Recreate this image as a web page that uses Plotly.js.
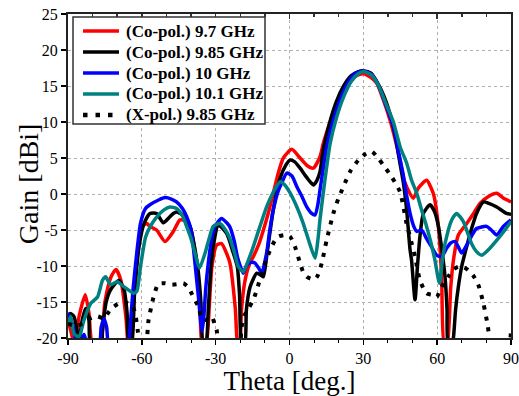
<!DOCTYPE html>
<html>
<head>
<meta charset="utf-8">
<script src="https://cdn.plot.ly/plotly-3.0.1.min.js"></script>
<style>
html,body{margin:0;padding:0;background:#fff;}
#chart{width:519px;height:396px;}
</style>
</head>
<body>
<div id="chart"></div>
<script>
// ---- Data ----
const seriesNames = ["(Co-pol.) 9.7 GHz", "(Co-pol.) 9.85 GHz", "(Co-pol.) 10 GHz", "(Co-pol.) 10.1 GHz", "(X-pol.) 9.85 GHz"];

const theta97 = [-90,-88.5,-87.5,-85.5,-83,-81.5,-80,-77,-75,-72.5,-70.5,-68.5,-66.5,-65.5,-64,-62,-60,-58,-56.7,-54,-50.6,-47.2,-44.5,-42,-40,-38,-36.5,-35.5,-34.5,-33.5,-31.5,-29.6,-27.6,-25.5,-24.2,-22,-21,-20.3,-19.5,-18,-16,-14.7,-12.5,-10.6,-8.5,-6.6,-4.5,-2.5,0.9,4.3,7,9.7,12.4,13.7,16.5,19.2,22,24.6,27,30,33,35.4,38,40.8,43,44.9,46.5,47.6,50.3,52.3,55.7,58.4,60.5,61.8,62.9,64,65.5,66.6,68.6,72,75,77.4,81,84.2,87,90];
const gain97  = [-17.5,-19.5,-21,-17,-14,-16.5,-21,-21,-15,-11.5,-10.5,-12,-17,-21,-18,-9,-4.5,-4.1,-4.5,-5,-6.6,-5.2,-3.6,-3.8,-5,-9,-14,-21,-21,-20,-10,-7.1,-6.9,-8.3,-9.6,-16,-21,-21,-16,-11.9,-9.5,-8.7,-7,-5,-2.5,0.1,3,5,6.2,5,4,3.6,5.2,7,10,12.6,14.5,15.8,16.4,16.7,16.2,15.4,13.2,10.3,7.5,4.7,2,1,-0.6,0.8,1.9,0.1,-4.5,-11.5,-21,-21,-13,-9.2,-5.7,-4.1,-2.6,-1.3,-0.3,0.1,-0.6,-1.1];

const theta985 = [-90,-89,-87.6,-86.3,-85.5,-84.5,-82.8,-81.5,-80.8,-76.5,-76,-74.5,-72.7,-69.3,-67.2,-66,-65.2,-64.2,-63,-61,-59,-56.7,-54,-51.3,-49,-47.2,-45.9,-43,-40.4,-38.5,-37,-36,-35,-34,-33,-32,-31,-28.9,-25.5,-23,-21.2,-20.3,-19.4,-18.2,-17.5,-16,-13.3,-11.5,-10.6,-9.3,-6.6,-3.8,-1.5,0.2,2,4.3,7,9.7,11,12.4,13.7,16,19,22,25,28,30,33,36,38.5,40.8,43,44.5,46.3,47.6,49,49.6,51,52,53,54.4,57.1,59,60.5,62,63.2,64,64.5,66,66.6,67.5,68.6,70,72,74,76,78.8,81,84.2,88.2,90];
const gain985  = [-16.8,-16.6,-17,-19,-21,-18,-15.9,-17.5,-21,-21,-19,-15,-13.3,-12,-13.3,-16.5,-21,-21,-14,-7,-4,-2.7,-2.7,-4,-3.3,-2.7,-2.5,-3,-4.5,-7.5,-11,-15,-21,-21,-16,-10.5,-7.3,-4.3,-5.5,-8,-10.1,-14,-21,-21,-16,-12.9,-11,-11.3,-11.5,-8.7,-2.2,2.2,4,4.7,4.5,3.6,2.3,1.25,1.8,3.1,6.1,9.5,12.8,15,16.4,17,17.1,16.8,15.3,13.5,11.2,8,5,1.5,-2.2,-7.8,-9.2,-14.7,-10,-5.9,-2.7,-1.5,-2.5,-4.5,-8,-11.5,-16,-21,-21,-20,-16,-12.9,-10,-7.3,-4.8,-2.7,-1.1,-1.3,-1.8,-2.7,-2.8];

const theta10 = [-90,-88.2,-86.2,-85,-83.5,-82,-77.4,-76.5,-75.4,-74.3,-73.3,-66,-65.2,-63.5,-62,-60.5,-58.5,-56.7,-53,-50.6,-48,-45.9,-43.5,-41.8,-40,-39.1,-38,-37,-36,-35.5,-34.8,-34,-33,-31.5,-30.3,-27.6,-25.5,-24.2,-22.5,-21.2,-20,-18.8,-17.4,-15.5,-14,-12.5,-11.3,-9.3,-8,-6.6,-4.5,-3.2,-1.1,1,3,5,7,9,10.4,11.5,12.4,13.7,15.1,18,21,24,27,30,33,36,39,42.2,44.5,46.3,47.5,49,50.5,51.7,53.7,55.7,57.5,59.8,61.8,63.9,65.5,67.3,68.8,70,72,74,76,80.1,82,84.2,86.9,90];
const gain10  = [-16.6,-18,-21,-21,-19.5,-21,-21,-18.5,-17.3,-18.5,-21,-21,-20,-13,-8,-4,-2,-1.5,-0.8,-0.5,-0.7,-1.1,-2,-3.1,-5,-7.3,-11,-14.3,-18,-19.1,-17,-13,-9.6,-6,-4.5,-3.4,-4,-4.6,-6.5,-8.7,-10,-11,-9.9,-9.5,-9.6,-10.3,-11,-8.2,-5,-2.2,0.5,1.5,2.9,2.5,1,-0.3,-1.8,-2.7,-2.9,-1.5,0.6,3.5,6.6,10.5,13.5,15.6,16.8,17.1,16.7,15.2,12.5,9.4,5.5,2.5,0,-2.7,-4.5,-5.2,-5,-6.2,-7.2,-8.5,-8.7,-7.5,-6.8,-6.6,-7.5,-8.2,-7.1,-5.8,-4.8,-4.5,-5,-5.7,-4.5,-3.6];

const theta101 = [-90,-88.9,-87.6,-85.5,-83.5,-80.8,-78,-76,-74.7,-72.7,-70,-67.2,-63.2,-62,-60.5,-58.5,-56.7,-54,-51,-48.6,-45.9,-43.5,-41.8,-40,-38.4,-36.6,-34.3,-32.5,-31,-28.2,-26,-24.2,-22.5,-20.8,-18.8,-16.5,-14.7,-12,-9.3,-6.5,-3.8,-2,0,3,5.5,8.3,10.4,11.5,12.4,13.7,15,16.5,19,22,25,28,30,33,36,39,42.2,45,47.6,49.5,51.7,53.5,55.7,57.5,59.1,60.9,62,63.2,65.9,67.9,70.6,72.5,74,76,78.1,81.5,85.5,88,90];
const gain101  = [-18,-17,-19.4,-19.8,-17.5,-15.2,-14.3,-12,-11.5,-12.6,-12.2,-12.9,-13.8,-13.5,-10,-6,-4.6,-3.2,-2.2,-1.8,-2,-3,-4.5,-6.2,-8.2,-10.3,-8.2,-6,-4.5,-4.1,-5,-6.2,-8,-10.1,-10.8,-9,-7.3,-4.5,-1.8,0.3,1.7,1.3,0.3,-1.8,-4,-7,-8.9,-6.5,-3.5,0.1,3.5,7,10.5,13.5,15.6,16.7,17,16.6,15.2,12.7,10,6.5,4.3,2,0.1,-2,-4.5,-6.8,-9.2,-12.4,-9.5,-6.9,-3.6,-2.7,-3.8,-5.5,-6.9,-8,-8.5,-7.5,-5.9,-4.8,-3.8];

const thetaX = [-90,-87,-84,-81,-78,-75.4,-72.7,-69.3,-66.5,-63.9,-62.5,-61.6,-60.5,-58.5,-57.3,-55.3,-53.3,-50.5,-47.9,-45,-43.1,-41,-39.8,-38,-37,-35.7,-34,-31.6,-30.5,-29.6,-28.5,-20.5,-19.5,-18.5,-16.5,-14.7,-13,-11.3,-9.5,-7.9,-6,-4.5,-2,0.2,2.2,4.3,5.5,7,9,10.4,11.5,13.1,15.1,17.8,20,21.9,24.6,28,31,33.4,36,38.1,41.5,44.9,46.3,47.5,49,51,53,55.7,58,59.8,61.8,64.5,66.5,68.6,71,73.3,75,76.7,78.8,80.4,81.2,82,89,90];
const gainX  = [-18,-18.3,-18,-17.3,-17,-17.3,-16,-15.2,-15.1,-15.4,-17,-19.1,-21,-21,-17.6,-14.4,-12.5,-12.4,-12.6,-12.5,-12.4,-13,-13.8,-15,-15.6,-17.3,-17.5,-17,-18,-18.9,-21,-21,-18.5,-17,-15.8,-14.7,-13,-11,-9.2,-7.8,-6.5,-5.9,-5.7,-5.9,-7.3,-9.6,-10.8,-11.5,-11.8,-11.8,-11.3,-9.6,-6.4,-2.7,-0.5,1,3.1,4.7,5.6,5.9,5,4,2.4,0.3,-1.8,-4,-6,-8.7,-12,-13.8,-14,-14.3,-12.9,-11.5,-10.5,-10.1,-10.2,-10.8,-11.5,-12.6,-15.2,-18,-19.8,-21,-21,-19];

const xTickVals = [-90,-60,-30,0,30,60,90];
const xTickText = ["-90","-60","-30","0","30","60","90"];
const yTickVals = [-20,-15,-10,-5,0,5,10,15,20,25];
const yTickText = ["-20","-15","-10","-5","0","5","10","15","20","25"];

const colors = ["#ff0000","#000000","#0000ff","#008080","#000000"];

// ---- Traces ----
const xs = [theta97, theta985, theta10, theta101, thetaX];
const ys = [gain97, gain985, gain10, gain101, gainX];
const traces = xs.map((x,i)=>({
  x: x, y: ys[i], name: seriesNames[i], type: 'scatter', mode: 'lines', showlegend: false,
  line: {color: colors[i], width: i===4 ? 4 : 3.5, shape: 'spline', smoothing: 0.6, dash: i===4 ? '4px,7px' : 'solid'}
}));
traces.push({x: [], y: [], xaxis: 'x2', showlegend: false, hoverinfo: 'skip'});

const fontFam = '"Liberation Serif", "Times New Roman", serif';

// ---- Legend box (drawn with paper-referenced shapes + annotations) ----
const legX0 = 0.0113, legX1 = 0.4447, legY0 = 0.6605, legY1 = 0.9907;
const legLineX0 = 0.0339, legLineX1 = 0.1151, legTextX = 0.1264;
const legRowY = [0.9475, 0.8827, 0.8179, 0.7531, 0.6883];
const shapes = [{type:'rect', xref:'paper', yref:'paper', x0:legX0, x1:legX1, y0:legY0, y1:legY1,
                 fillcolor:'#ffffff', line:{color:'#333333', width:1.5}, layer:'above'}];
const annotations = [];
seriesNames.forEach((n,i)=>{
  shapes.push({type:'line', xref:'paper', yref:'paper', x0:legLineX0, x1: i===4 ? legLineX0+0.0700 : legLineX1,
               y0:legRowY[i], y1:legRowY[i], layer:'above',
               line:{color:colors[i], width: i===4 ? 4.5 : 3.5, dash: i===4 ? '4.5px,8px' : 'solid'}});
  annotations.push({xref:'paper', yref:'paper', x:legTextX, y:legRowY[i], xanchor:'left', yanchor:'middle',
                    text:n, showarrow:false, font:{family:fontFam, size:17, color:'#000', weight:'bold'}});
});
annotations.push({xref:'paper', yref:'paper', x:-0.0903, y:0.478, xanchor:'center', yanchor:'middle',
                  text:'Gain [dBi]', textangle:-90, showarrow:false, font:{family:fontFam, size:28, color:'#000'}});

const layout = {
  width: 519, height: 396,
  margin: {l: 68, r: 8, t: 14, b: 58},
  paper_bgcolor: '#ffffff', plot_bgcolor: '#ffffff',
  font: {family: fontFam, color: '#000', size: 16},
  showlegend: false,
  shapes: shapes,
  annotations: annotations,
  xaxis: {
    range: [-90, 90], tickmode: 'array', tickvals: xTickVals, ticktext: xTickText,
    ticks: 'outside', ticklen: 5, tickwidth: 1.5, tickcolor: '#000',
    minor: {dtick: 10, tick0: -90, ticks: 'outside', ticklen: 3, tickwidth: 1, tickcolor: '#000', showgrid: false},
    showline: true, linecolor: '#222', linewidth: 2, mirror: true,
    showgrid: true, gridcolor: '#b0b0b0', griddash: 'dot', gridwidth: 1,
    zeroline: false,
    tickfont: {family: fontFam, size: 16, color: '#000'},
    title: {text: 'Theta [deg.]', font: {family: fontFam, size: 27, color: '#000'}, standoff: 5}
  },
  xaxis2: {
    overlaying: 'x', side: 'top', anchor: 'y', range: [-90, 90],
    tickmode: 'array', tickvals: xTickVals, ticks: 'inside', ticklen: 5, tickwidth: 1.5, tickcolor: '#333',
    minor: {dtick: 10, tick0: -90, ticks: 'inside', ticklen: 3, tickcolor: '#333', showgrid: false},
    showticklabels: false, showgrid: false, zeroline: false, showline: false
  },
  yaxis: {
    range: [-20, 25], tickmode: 'array', tickvals: yTickVals, ticktext: yTickText,
    ticks: 'outside', ticklen: 5, tickwidth: 1.5, tickcolor: '#000',
    showline: true, linecolor: '#222', linewidth: 2, mirror: true,
    showgrid: true, gridcolor: '#b0b0b0', griddash: 'dot', gridwidth: 1,
    zeroline: false,
    tickfont: {family: fontFam, size: 16, color: '#000'}
  }
};

Plotly.newPlot('chart', traces, layout, {staticPlot: true, displayModeBar: false});
</script>
</body>
</html>
